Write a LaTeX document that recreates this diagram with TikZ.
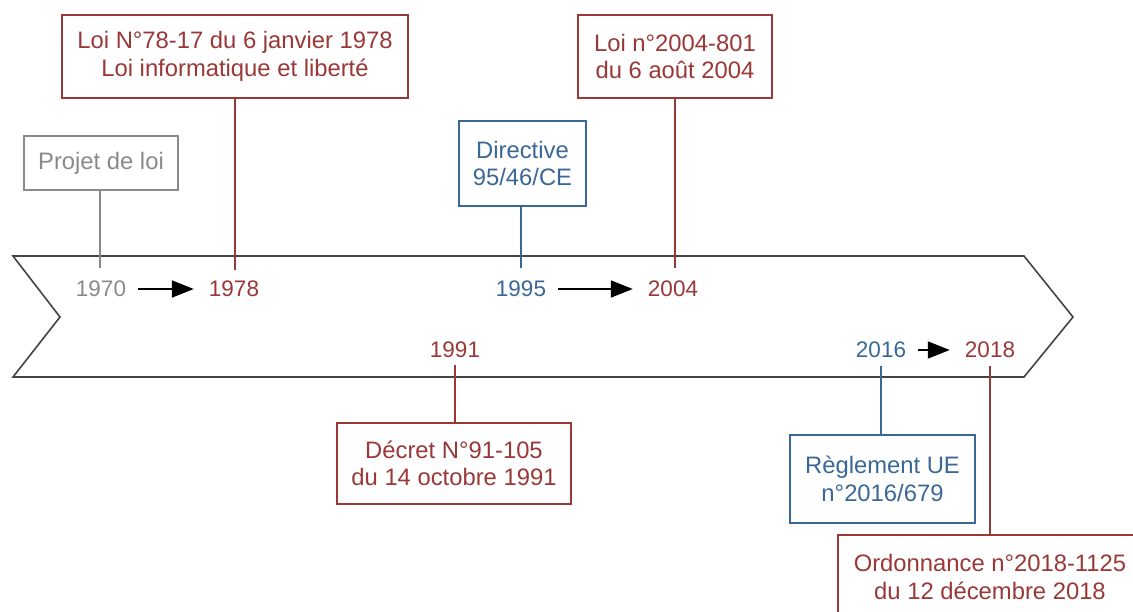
\documentclass[tikz,border=0pt]{standalone}
\usepackage{fontspec}
\setmainfont{Liberation Sans}
\usetikzlibrary{arrows.meta}
\definecolor{cred}{HTML}{9A3838}
\definecolor{cblue}{HTML}{3A6896}
\definecolor{cgray}{HTML}{8A8A8A}
\definecolor{cband}{HTML}{444444}
\begin{document}
\begin{tikzpicture}[x=1pt,y=-1pt,
  txt/.style={font=\fontsize{23.8}{27.5}\selectfont, align=center},
  box/.style={txt, draw, line width=1.3pt, fill=white, inner sep=0pt},
  redbox/.style={box, draw=cred, text=cred},
  bluebox/.style={box, draw=cblue, text=cblue},
  graybox/.style={box, draw=cgray, text=cgray},
  year/.style={font=\fontsize{22.5}{27}\selectfont, inner sep=0pt},
  tick/.style={line width=1.3pt},
  flow/.style={line width=1.9pt, -{Triangle[length=22pt,width=17pt]}, shorten <=12pt, shorten >=15pt},
]
\useasboundingbox (0,0) rectangle (1133,611);
% banner
\draw[cband, line width=1.6pt, line join=miter, fill=white]
  (13,256) -- (1024,256) -- (1073,317) -- (1024,377) -- (13,377) -- (60,317) -- cycle;

% year labels
\node[year, text=cgray] (y1970) at (101,289) {1970};
\node[year, text=cred]  (y1978) at (234,289) {1978};
\node[year, text=cblue] (y1995) at (521,289) {1995};
\node[year, text=cred]  (y2004) at (673,289) {2004};
\node[year, text=cred]  (y1991) at (455,350) {1991};
\node[year, text=cblue] (y2016) at (881,350) {2016};
\node[year, text=cred]  (y2018) at (990,350) {2018};

% tick end points on the banner
\coordinate (t1970) at (100,268);
\coordinate (t1978) at (235,270);
\coordinate (t1995) at (521,268);
\coordinate (t2004) at (675,268);
\coordinate (t1991) at (455,365);
\coordinate (t2016) at (881,366);
\coordinate (t2018) at (990,366);

% boxes
\node[graybox, minimum width=154pt, minimum height=54pt] (projet) at (101,163) {Projet de loi};
\node[redbox, minimum width=346pt, minimum height=83pt] (loi78) at (235,56.5) {Loi N°78-17 du 6 janvier 1978\\Loi informatique et liberté};
\node[bluebox, minimum width=127pt, minimum height=85pt] (dir) at (522.5,163.5) {Directive\\95/46/CE};
\node[redbox, minimum width=194pt, minimum height=83pt] (loi04) at (675,56.5) {Loi n°2004-801\\du 6 août 2004};
\node[redbox, minimum width=234pt, minimum height=81pt] (decret) at (454,463.5) {Décret N°91-105\\du 14 octobre 1991};
\node[bluebox, minimum width=185pt, minimum height=88pt] (regl) at (882.5,479) {Règlement UE\\n°2016/679};
\node[redbox, minimum width=304pt, minimum height=84pt] (ordo) at (990,577) {Ordonnance n°2018-1125\\du 12 décembre 2018};

% ticks
\draw[tick, cgray] (projet.south -| t1970) -- (t1970);
\draw[tick, cred]  (loi78.south -| t1978) -- (t1978);
\draw[tick, cblue] (dir.south -| t1995) -- (t1995);
\draw[tick, cred]  (loi04.south -| t2004) -- (t2004);
\draw[tick, cred]  (t1991) -- (decret.north -| t1991);
\draw[tick, cblue] (t2016) -- (regl.north -| t2016);
\draw[tick, cred]  (t2018) -- (ordo.north -| t2018);

% arrows
\draw[flow] (y1970) -- (y1978);
\draw[flow] (y1995) -- (y2004);
\draw[flow] (y2016) -- (y2018);
\end{tikzpicture}
\end{document}
